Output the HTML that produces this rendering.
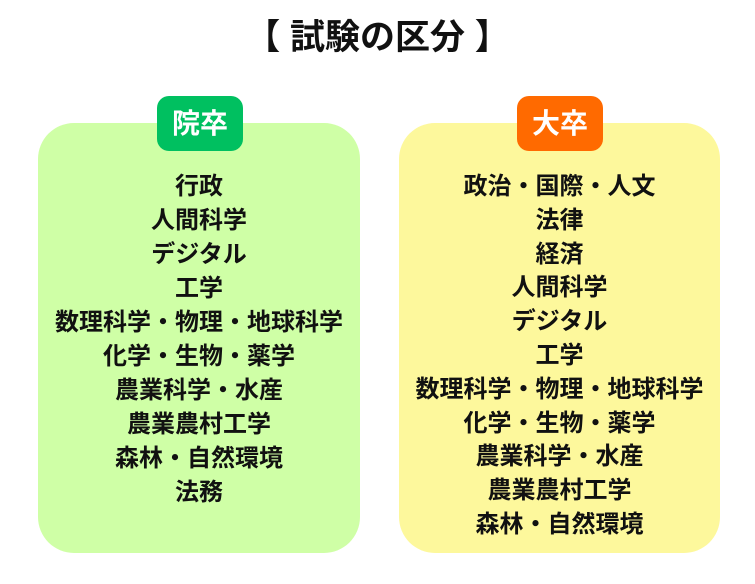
<!DOCTYPE html>
<html><head><meta charset="utf-8"><style>
body{margin:0;width:755px;height:584px;background:#fff;position:relative;overflow:hidden;font-family:"Liberation Sans","Noto Sans CJK JP",sans-serif;font-weight:bold;color:#111}
.t{position:absolute;left:0;width:755px;top:16px;text-align:center;font-size:35px;line-height:44px}
.p{position:absolute;top:123px;height:430px;border-radius:36px}
.b{position:absolute;top:96px;height:55px;border-radius:12px;color:#fff;font-size:28px;line-height:55px;text-align:center}
.l{position:absolute;left:0;width:100%;text-align:center;font-size:24px;line-height:34px}
</style></head><body>
<div class="t">【 試験の区分 】</div>
<div class="p" style="left:38px;width:322px;background:#cfffa6">
<div class="l" style="top:47px">行政<br>人間科学<br>デジタル<br>工学<br>数理科学・物理・地球科学<br>化学・生物・薬学<br>農業科学・水産<br>農業農村工学<br>森林・自然環境<br>法務</div></div>
<div class="p" style="left:399px;width:321px;background:#fdf89c">
<div class="l" style="top:47px;line-height:33.8px">政治・国際・人文<br>法律<br>経済<br>人間科学<br>デジタル<br>工学<br>数理科学・物理・地球科学<br>化学・生物・薬学<br>農業科学・水産<br>農業農村工学<br>森林・自然環境</div></div>
<div class="b" style="left:157px;width:86px;background:#00c060">院卒</div>
<div class="b" style="left:517px;width:86px;background:#ff6a00">大卒</div>
</body></html>
